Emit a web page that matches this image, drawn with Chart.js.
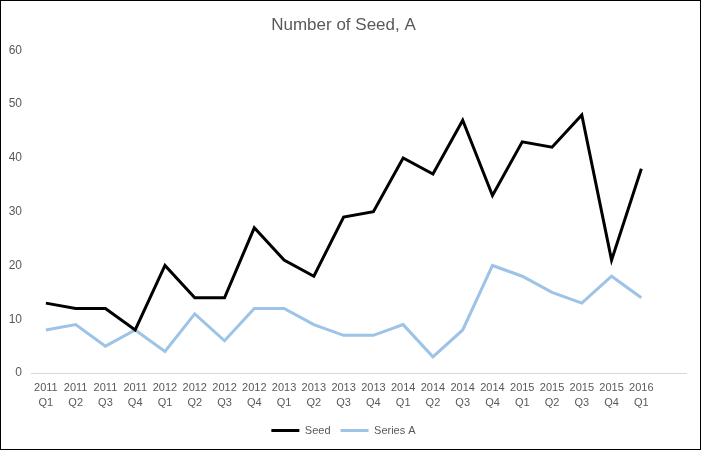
<!DOCTYPE html>
<html>
<head>
<meta charset="utf-8">
<script src="https://cdn.jsdelivr.net/npm/chart.js@4"></script>
<style>
    body { margin: 0; background: #fff; }
    .frame { width: 701px; height: 450px; box-sizing: border-box; border: 1px solid #000; }
    canvas { display: block; }
</style>
</head>
<body>
<div class="frame"><canvas id="seedChart" width="699" height="448"></canvas></div>
<script>
const quarters = [
    ['2011', 'Q1'], ['2011', 'Q2'], ['2011', 'Q3'], ['2011', 'Q4'],
    ['2012', 'Q1'], ['2012', 'Q2'], ['2012', 'Q3'], ['2012', 'Q4'],
    ['2013', 'Q1'], ['2013', 'Q2'], ['2013', 'Q3'], ['2013', 'Q4'],
    ['2014', 'Q1'], ['2014', 'Q2'], ['2014', 'Q3'], ['2014', 'Q4'],
    ['2015', 'Q1'], ['2015', 'Q2'], ['2015', 'Q3'], ['2015', 'Q4'],
    ['2016', 'Q1'], ''
];
const seedValues = [13, 12, 12, 8, 20, 14, 14, 27, 21, 18, 29, 30, 40, 37, 47, 33, 43, 42, 48, 21, 38, null];
const seriesAValues = [8, 9, 5, 8, 4, 11, 6, 12, 12, 9, 7, 7, 9, 3, 8, 20, 18, 15, 13, 18, 14, null];
const yTicks = [0, 10, 20, 30, 40, 50, 60];

const textColor = '#595959';
const fontFamily = "'Liberation Sans Narrow', 'Liberation Sans', sans-serif";

new Chart(document.getElementById('seedChart'), {
    type: 'line',
    data: {
        labels: quarters,
        datasets: [{
            label: 'Seed',
            data: seedValues,
            borderColor: '#000000',
            backgroundColor: '#000000',
            borderWidth: 3,
            pointRadius: 0,
            pointStyle: 'line',
            tension: 0
        }, {
            label: 'Series A',
            data: seriesAValues,
            borderColor: '#9dc3e6',
            backgroundColor: '#9dc3e6',
            borderWidth: 3,
            pointRadius: 0,
            pointStyle: 'line',
            tension: 0
        }]
    },
    options: {
        responsive: false,
        animation: false,
        layout: {
            padding: { left: 0, right: 14, top: 0, bottom: 3 }
        },
        plugins: {
            title: {
                display: true,
                text: 'Number of Seed, A',
                color: textColor,
                font: { family: fontFamily, size: 17, weight: 'normal' },
                padding: { top: 14, bottom: 15 }
            },
            legend: {
                position: 'bottom',
                labels: {
                    color: textColor,
                    font: { family: fontFamily, size: 11 },
                    usePointStyle: true,
                    pointStyleWidth: 28,
                    boxHeight: 8,
                    padding: 10
                }
            },
            tooltip: { enabled: false }
        },
        scales: {
            x: {
                offset: true,
                grid: { display: false, drawTicks: false },
                border: { display: true, color: '#d9d9d9', width: 1 },
                ticks: {
                    color: textColor,
                    font: { family: fontFamily, size: 11, lineHeight: 1.35 },
                    maxRotation: 0,
                    autoSkip: false,
                    padding: 8
                },
                afterFit: function(scale) { scale.height = 42; }
            },
            y: {
                min: 0,
                max: 60,
                afterBuildTicks: function(scale) {
                    scale.ticks = yTicks.map(v => ({ value: v }));
                },
                grid: { display: false, drawTicks: false },
                border: { display: false },
                ticks: {
                    color: textColor,
                    font: { family: fontFamily, size: 12 },
                    padding: 9
                },
                afterFit: function(scale) { scale.width = 30; }
            }
        }
    }
});
</script>
</body>
</html>
